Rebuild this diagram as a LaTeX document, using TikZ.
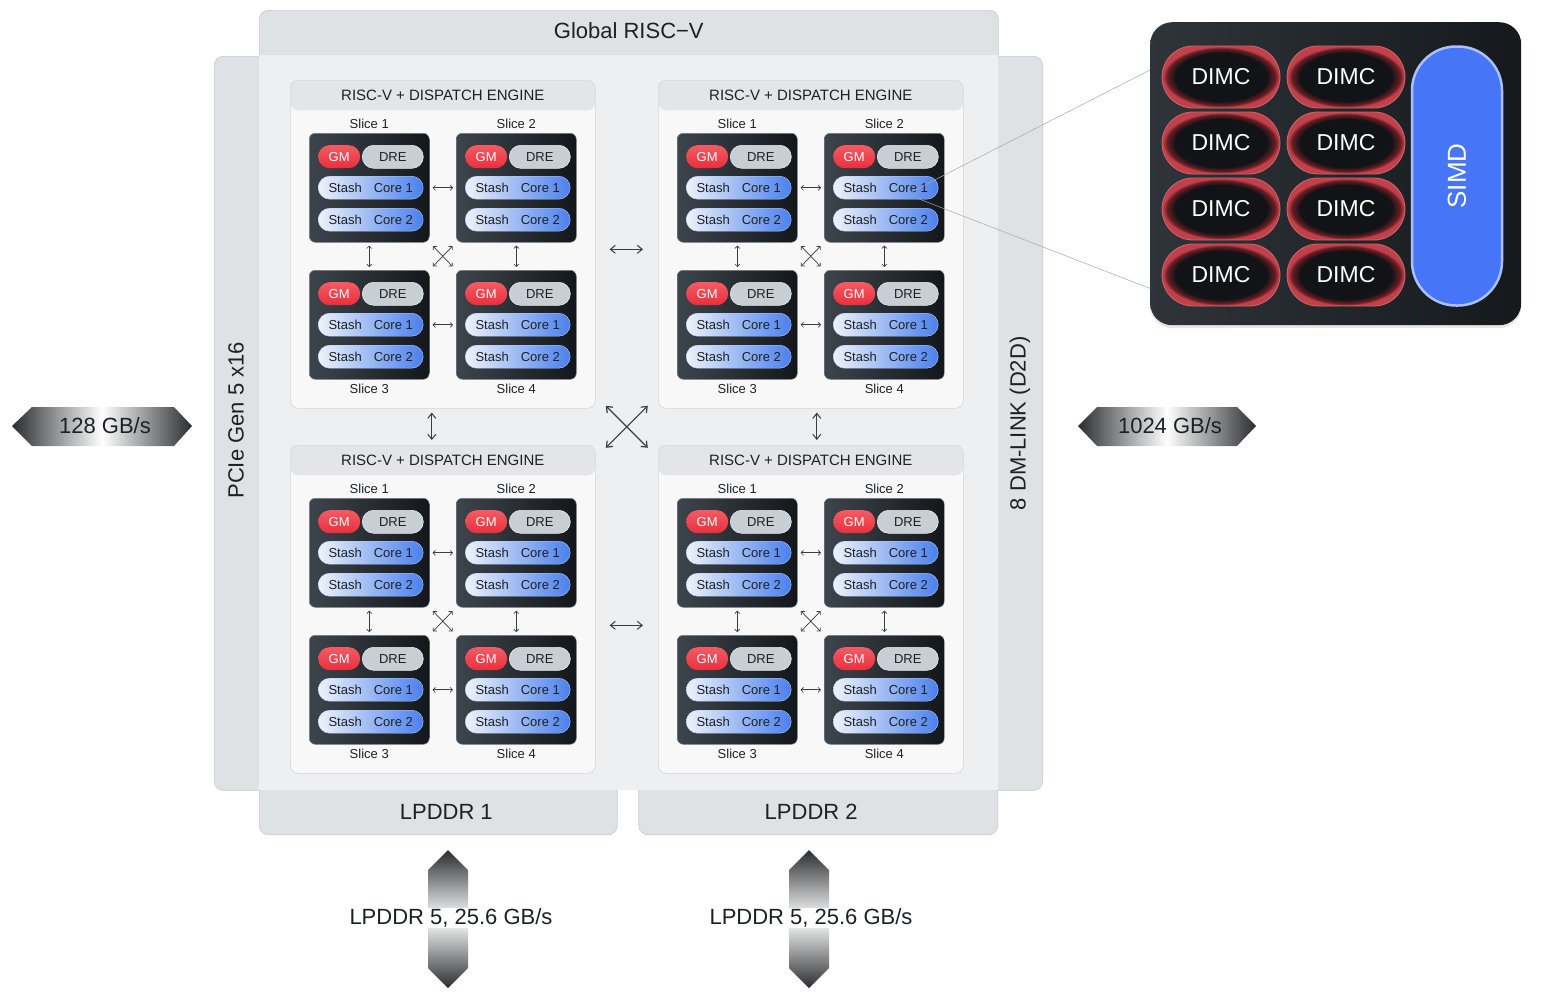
\documentclass[tikz,border=0pt]{standalone}
\usepackage{fontspec}
\setmainfont{Liberation Sans}
\usetikzlibrary{arrows.meta, positioning, calc, shadows}

\definecolor{barfill}{HTML}{DEE2E5}
\definecolor{barline}{HTML}{C6CBD0}
\definecolor{corefill}{HTML}{EEEFF0}
\definecolor{engfill}{HTML}{F8F8F8}
\definecolor{engline}{HTML}{D3D6D9}
\definecolor{headfill}{HTML}{E3E5E8}
\definecolor{inkdark}{HTML}{1E2124}
\definecolor{sliceA}{HTML}{3D454C}
\definecolor{sliceB}{HTML}{13171B}
\definecolor{gmred}{HTML}{EA2F3C}
\definecolor{gmlight}{HTML}{F45B64}
\definecolor{dregrey}{HTML}{C7CED4}
\definecolor{pillA}{HTML}{EDF2F9}
\definecolor{pillB}{HTML}{4A80EE}
\definecolor{linkgrey}{HTML}{3A3D40}
\definecolor{panelA}{HTML}{2E3439}
\definecolor{panelB}{HTML}{15191C}
\definecolor{dimcin}{HTML}{111316}
\definecolor{dimcglow}{HTML}{6A1E24}
\definecolor{dimcred}{HTML}{C24049}
\definecolor{simdblue}{HTML}{4775F7}
\definecolor{simdedge}{HTML}{A9C0FF}
\definecolor{bwdark}{HTML}{2A2D30}

\pgfdeclareradialshading{dimcglowshade}{\pgfpoint{0bp}{0bp}}{color(0bp)=(dimcin); color(19.5bp)=(dimcin); color(23bp)=(dimcglow); color(24.6bp)=(dimcred); color(25bp)=(dimcred); color(50bp)=(dimcred)}

\begin{document}
\begin{tikzpicture}[x=1pt, y=-1pt,
    bar/.style={draw=barline, fill=barfill, rounded corners=9pt, line width=0.6pt, inner sep=0pt},
    bartext/.style={font=\fontsize{22}{25}\selectfont, text=inkdark},
    engine/.style={draw=engline, fill=engfill, rounded corners=8pt, minimum width=305pt, minimum height=328pt, inner sep=0pt, line width=0.6pt,
        path picture={\fill[headfill] (path picture bounding box.north west) rectangle ([yshift=-30pt]path picture bounding box.north east);}},
    enghead/.style={font=\fontsize{15}{18}\selectfont, text=inkdark},
    slicebox/.style={draw=sliceA!70!white, line width=0.5pt, left color=sliceA, right color=sliceB, rounded corners=6pt, minimum width=120pt, minimum height=109pt, inner sep=0pt},
    slicelabel/.style={font=\fontsize{13}{15}\selectfont, text=inkdark, inner sep=1pt},
    pill/.style={rounded corners=11.5pt, minimum height=23pt, inner sep=0pt, font=\fontsize{13}{15}\selectfont, anchor=north west},
    gm/.style={pill, minimum width=42pt, top color=gmlight, bottom color=gmred, text=white},
    dre/.style={pill, minimum width=61pt, fill=dregrey, draw=white!60!dregrey, line width=0.6pt, text=inkdark},
    core/.style={pill, minimum width=105pt, left color=pillA, right color=pillB, draw=white!60!pillB, line width=0.4pt, text=inkdark},
    link/.style={<->, >={Straight Barb[length=2.5pt,width=5pt]}, line width=0.7pt, draw=linkgrey, shorten <=3pt, shorten >=3pt},
    biglink/.style={<->, >={Straight Barb[length=5pt,width=8pt]}, line width=1pt, draw=linkgrey},
    bwshade/.style={left color=bwdark, right color=bwdark, middle color=white},
    bwvshade/.style={top color=bwdark, bottom color=bwdark, middle color=white},
    bwtext/.style={font=\fontsize{22}{26}\selectfont, text=inkdark},
    dimc/.style={shade, shading=dimcglowshade, draw=dimcred!80!white, line width=0.8pt, rounded corners=31pt, minimum width=118pt, minimum height=62pt, inner sep=0pt, font=\fontsize{23}{26}\selectfont, text=white},
    simd/.style={fill=simdblue, draw=simdedge, line width=2.5pt, rounded corners=44pt, minimum width=90pt, minimum height=259pt, inner sep=0pt, font=\fontsize{26}{30}\selectfont, text=white},
    zoomline/.style={draw=gray!70, line width=0.5pt}
]
\useasboundingbox (0,0) rectangle (1545,991);

\node[bar, anchor=north west, minimum width=739pt, minimum height=60pt] (global) at (259,10) {};
\node[bar, anchor=north west, minimum width=60pt, minimum height=734pt] (pcie) at (214,56) {};
\node[bar, anchor=north east, minimum width=60pt, minimum height=734pt] (dmlink) at (1043,56) {};
\node[bar, anchor=south west, minimum width=358pt, minimum height=60pt] (lpddr1) at (259,835) {};
\node[bar, anchor=south east, minimum width=359pt, minimum height=60pt] (lpddr2) at (998,835) {};
\node[fill=corefill, anchor=north west, minimum width=739pt, minimum height=735pt, inner sep=0pt] (core) at (259,55) {};

\node[bartext] (globaltxt) at ([yshift=-21pt]global.north) {Global RISC−V};
\node[bartext, rotate=90] (pcietxt) at ([xshift=22pt, yshift=3pt]pcie.west) {PCIe Gen 5 x16};
\node[bartext, rotate=90] (dmlinktxt) at ([xshift=-23pt]dmlink.east) {8 DM-LINK (D2D)};
\node[bartext] (lpddr1txt) at ([xshift=8pt, yshift=23pt]lpddr1.south) {LPDDR 1};
\node[bartext] (lpddr2txt) at ([xshift=-7pt, yshift=23pt]lpddr2.south) {LPDDR 2};

\foreach \e/\ex/\ey in {1/290/80, 2/658/80, 3/290/445, 4/658/445} {
  \node[engine, anchor=north west] (eng\e) at (\ex,\ey) {};
  \node[enghead] (head\e) at ([yshift=-15pt]eng\e.north) {RISC-V + DISPATCH ENGINE};
  \foreach \s/\sx/\sy in {1/19/53, 2/166/53, 3/19/190, 4/166/190} {
    \node[slicebox, anchor=north west] (e\e-\s) at ([shift={(\sx,\sy)}]eng\e.north west) {};
    \node[gm] (gm\e-\s) at ([shift={(9,12)}]e\e-\s.north west) {GM};
    \node[dre] (dre\e-\s) at ([shift={(53,12)}]e\e-\s.north west) {DRE};
    \node[core] (ca\e-\s) at ([shift={(9,43)}]e\e-\s.north west) {Stash\hspace{12pt}Core 1};
    \node[core] (cb\e-\s) at ([shift={(9,75)}]e\e-\s.north west) {Stash\hspace{12pt}Core 2};
    \ifnum\s<3
      \node[slicelabel, above=3pt of e\e-\s] (lab\e-\s) {Slice \s};
    \else
      \node[slicelabel, below=3pt of e\e-\s] (lab\e-\s) {Slice \s};
    \fi
  }
  \draw[link] (e\e-1) -- (e\e-2);
  \draw[link] (e\e-3) -- (e\e-4);
  \draw[link] (e\e-1) -- (e\e-3);
  \draw[link] (e\e-2) -- (e\e-4);
  \draw[link, shorten <=5pt, shorten >=5pt] (e\e-1.south east) -- (e\e-4.north west);
  \draw[link, shorten <=5pt, shorten >=5pt] (e\e-2.south west) -- (e\e-3.north east);
}

\draw[biglink, shorten <=14pt, shorten >=15pt] ([yshift=-5pt]eng1.east) -- ([yshift=-5pt]eng2.west);
\draw[biglink, shorten <=14pt, shorten >=15pt] ([yshift=-16pt]eng3.east) -- ([yshift=-16pt]eng4.west);
\draw[biglink, shorten <=4pt, shorten >=5pt] ([xshift=-11pt]eng1.south) -- ([xshift=-11pt]eng3.north);
\draw[biglink, shorten <=4pt, shorten >=5pt] ([xshift=6pt]eng2.south) -- ([xshift=6pt]eng4.north);
\coordinate (hub) at ($(eng1.south east)!0.5!(eng4.north west)$);
\draw[biglink, line width=1.2pt] ([shift={(-21,-21)}]hub) -- ([shift={(21,21)}]hub);
\draw[biglink, line width=1.2pt] ([shift={(21,-21)}]hub) -- ([shift={(-21,21)}]hub);

\node[left color=panelA, right color=panelB, rounded corners=22pt, minimum width=371pt, minimum height=303pt, inner sep=0pt, anchor=north west,
    drop shadow={opacity=0.2, shadow xshift=0pt, shadow yshift=-3pt}] (dimcpanel) at (1150,22) {};
\foreach \i/\cx/\cy in {1/1221/77, 2/1346/77, 3/1221/143, 4/1346/143, 5/1221/209, 6/1346/209, 7/1221/275, 8/1346/275}
  \node[dimc] (dimc\i) at (\cx,\cy) {DIMC};
\node[simd] (simd) at (1457,176) {\rotatebox{90}{SIMD}};

\coordinate (zoomA) at ([shift={(26,4)}]ca2-2.center);
\coordinate (zoomB) at ([shift={(30,10)}]ca2-2.center);
\draw[zoomline] (zoomA) -- ([yshift=-48pt]dimcpanel.north west);
\draw[zoomline] (zoomB) -- ([yshift=37pt]dimcpanel.south west);

\shade[bwshade] (12,426) -- (32,407) -- (174,407) -- (192,426) -- (174,446) -- (32,446) -- cycle;
\node[bwtext] (pciebw) at (105,426) {128 GB/s};
\shade[bwshade] (1078,426) -- (1097,407) -- (1237,407) -- (1256,426) -- (1237,446) -- (1097,446) -- cycle;
\node[bwtext] (d2dbw) at (1170,426) {1024 GB/s};
\shade[bwvshade] (448,850) -- (468,870) -- (468,968) -- (448,988) -- (428,968) -- (428,870) -- cycle;
\node[bwtext, fill=white, inner xsep=0pt, inner ysep=1pt] (lpddr1bw) at (451,918) {LPDDR 5, 25.6 GB/s};
\shade[bwvshade] (809,850) -- (829,870) -- (829,968) -- (809,988) -- (789,968) -- (789,870) -- cycle;
\node[bwtext, fill=white, inner xsep=0pt, inner ysep=1pt] (lpddr2bw) at (811,918) {LPDDR 5, 25.6 GB/s};
\end{tikzpicture}
\end{document}
